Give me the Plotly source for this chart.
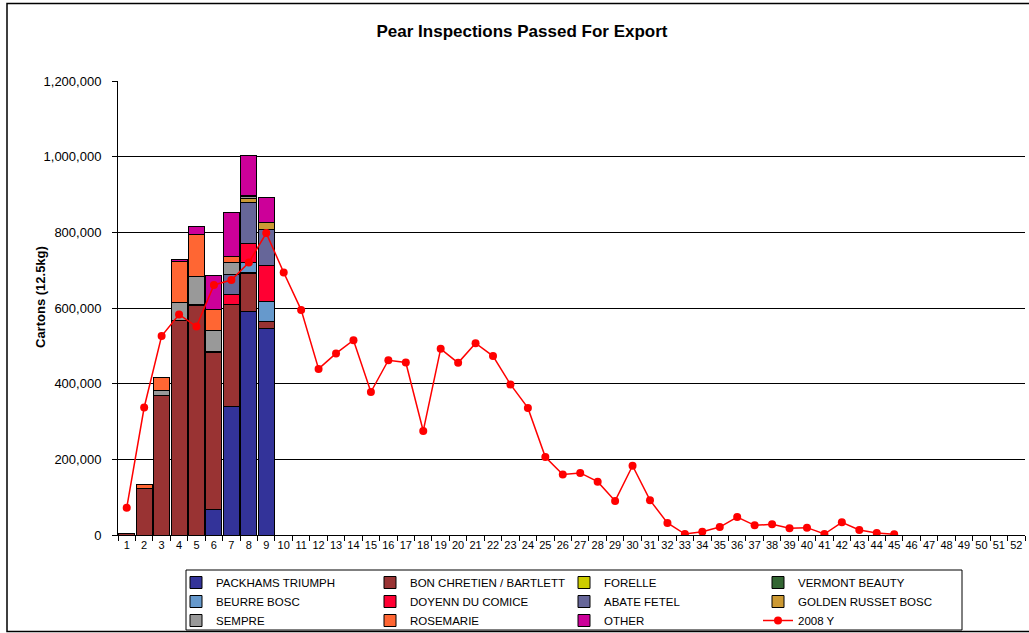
import plotly.graph_objects as go

weeks = [str(i) for i in range(1, 53)]
bar_weeks = [str(i) for i in range(1, 10)]

packhams = [0, 0, 0, 0, 0, 68000, 339000, 590000, 546000]
bon = [3000, 124000, 370000, 568000, 607000, 415000, 270000, 101000, 19000]
forelle = [0, 0, 0, 0, 0, 0, 0, 0, 0]
vermont = [0, 0, 0, 0, 3000, 3000, 0, 3000, 0]
beurre = [0, 0, 0, 0, 0, 0, 0, 25000, 51000]
doyenn = [0, 0, 0, 0, 0, 0, 27000, 52000, 96000]
abate = [0, 0, 0, 0, 0, 0, 53000, 108000, 95000]
golden = [0, 0, 0, 0, 0, 0, 0, 11000, 20000]
sempre = [0, 0, 11000, 47000, 73000, 55000, 32000, 5000, 0]
rosemarie = [0, 9000, 36000, 109000, 112000, 54000, 15000, 2000, 0]
other = [0, 0, 0, 5000, 21000, 92000, 117000, 107000, 64000]

line_weeks = [str(i) for i in range(1, 46)]
y2008 = [72000, 337000, 526000, 583000, 551000, 661000, 674000, 720000, 798000,
         694000, 595000, 439000, 480000, 515000, 378000, 462000, 456000, 275000,
         492000, 455000, 507000, 473000, 398000, 336000, 206000, 160000, 164000,
         141000, 90000, 183000, 92000, 32000, 2600, 8800, 21000, 47600, 25600,
         28200, 17600, 19400, 2600, 33500, 13200, 5300, 1800]

series = [
    ("PACKHAMS TRIUMPH", packhams, "#333399"),
    ("BON CHRETIEN / BARTLETT", bon, "#993333"),
    ("FORELLE", forelle, "#CCCC00"),
    ("VERMONT BEAUTY", vermont, "#336633"),
    ("BEURRE BOSC", beurre, "#6699CC"),
    ("DOYENN DU COMICE", doyenn, "#FF0033"),
    ("ABATE FETEL", abate, "#666699"),
    ("GOLDEN RUSSET BOSC", golden, "#CC9933"),
    ("SEMPRE", sempre, "#999999"),
    ("ROSEMARIE", rosemarie, "#FF6633"),
    ("OTHER", other, "#CC0099"),
]

fig = go.Figure()
for name, vals, col in series:
    fig.add_trace(go.Bar(x=bar_weeks, y=vals, name=name,
                         marker=dict(color=col, line=dict(color="black", width=1))))

fig.add_trace(go.Scatter(x=line_weeks, y=y2008, name="2008 Y", mode="lines+markers",
                         line=dict(color="#FF0000", width=1.5),
                         marker=dict(color="#FF0000", size=8)))

W, H = 1029, 633
ml, mr, mt, mb = 118, 4, 81, 98
pw, ph = W - ml - mr, H - mt - mb

def px_x(p):
    return (p - ml) / pw

def px_y(p):
    return (H - mb - p) / ph

fig.update_layout(
    width=W, height=H,
    margin=dict(l=ml, r=mr, t=mt, b=mb, autoexpand=False),
    barmode="stack", bargap=0.08,
    plot_bgcolor="white", paper_bgcolor="white",
    font=dict(family="Arial, Liberation Sans, sans-serif", size=12, color="black"),
    title=dict(text="<b>Pear Inspections Passed For Export</b>", x=522 / W, xref="container",
               xanchor="center", y=1 - 31 / H, yref="container", yanchor="middle",
               font=dict(size=17)),
    xaxis=dict(type="category", categoryorder="array", categoryarray=weeks,
               range=[-0.5, 51.5], tickson="boundaries", ticks="outside", ticklen=5,
               tickcolor="black", showline=True, linecolor="black", linewidth=1,
               showgrid=False, tickfont=dict(size=11), tickangle=0, automargin=False),
    yaxis=dict(range=[0, 1200000], dtick=200000, tickformat=",", ticks="outside",
               ticklen=5, tickcolor="black", showline=True, linecolor="black",
               showgrid=True, gridcolor="black", gridwidth=1, zeroline=False,
               automargin=False, ticklabelstandoff=8,
               tickfont=dict(size=13)),
    legend=dict(orientation="h", xref="container", yref="container",
                x=176 / W, y=1 - 568 / H, xanchor="left", yanchor="top",
                borderwidth=0, bgcolor="rgba(0,0,0,0)", font=dict(size=11.5),
                entrywidth=149, entrywidthmode="pixels", traceorder="normal",
                itemwidth=30, tracegroupgap=0),
    annotations=[dict(text="<b>Cartons (12.5kg)</b>", xref="paper", yref="paper",
                      x=px_x(40), y=px_y(297), textangle=-90, showarrow=False,
                      xanchor="center", yanchor="middle", font=dict(size=13))],
    shapes=[
        dict(type="rect", xref="paper", yref="paper",
             x0=px_x(7), x1=px_x(1040), y0=px_y(631.5), y1=px_y(3.5),
             line=dict(color="black", width=1.5), fillcolor="rgba(0,0,0,0)", layer="below"),
        dict(type="rect", xref="paper", yref="paper",
             x0=px_x(186), x1=px_x(962), y0=px_y(630), y1=px_y(570),
             line=dict(color="black", width=1), fillcolor="rgba(0,0,0,0)", layer="below"),
    ],
)

fig.write_html("out.html", post_script="document.body.style.margin='0';",
               config={"displayModeBar": False})
